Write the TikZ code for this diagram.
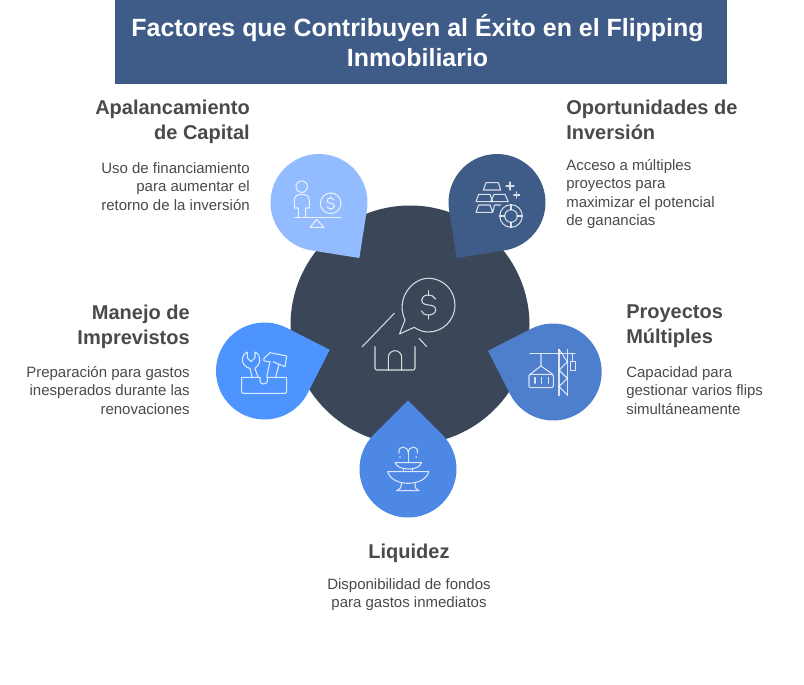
\documentclass[tikz,border=0pt]{standalone}
\usepackage{fontspec}
\setmainfont{Liberation Sans}
\usetikzlibrary{calc}
\definecolor{hdr}{HTML}{3F5C88}
\definecolor{core}{HTML}{3C4659}
\definecolor{dropA}{HTML}{93BBFF}
\definecolor{dropB}{HTML}{3F5C88}
\definecolor{dropC}{HTML}{4D94FF}
\definecolor{dropD}{HTML}{4D7FCC}
\definecolor{dropE}{HTML}{4D88E5}
\definecolor{ink}{HTML}{4A4A4A}
\newcommand{\drop}[4]{\fill[#4] ($(#1,#2)+(#3+45:48.5)$) arc[start angle=#3+45, delta angle=270, radius=48.5] -- ($(#1,#2)+(#3:68.6)$) -- cycle;}
\tikzset{
  titletext/.style={text=white,font=\bfseries\fontsize{18.7}{22.5}\selectfont,align=center,inner sep=0pt},
  headR/.style={text=ink,font=\bfseries\fontsize{15}{18.6}\selectfont,align=right,inner sep=0pt,anchor=north east},
  headL/.style={text=ink,font=\bfseries\fontsize{15}{18.6}\selectfont,align=left,inner sep=0pt,anchor=north west},
  headC/.style={text=ink,font=\bfseries\fontsize{15}{18.6}\selectfont,align=center,inner sep=0pt,anchor=north},
  bodyR/.style={text=ink,font=\fontsize{11.25}{13.9}\selectfont,align=right,inner sep=0pt,anchor=north east},
  bodyL/.style={text=ink,font=\fontsize{11.25}{13.9}\selectfont,align=left,inner sep=0pt,anchor=north west},
  bodyC/.style={text=ink,font=\fontsize{11.25}{13.9}\selectfont,align=center,inner sep=0pt,anchor=north},
  ico/.style={draw=white,draw opacity=.8,line width=.8pt,line join=round,line cap=round,fill=none},
}
\begin{document}
\begin{tikzpicture}[x=.75pt,y=-.75pt]
\useasboundingbox (0,0) rectangle (804,685);
\fill[white] (0,0) rectangle (804,685);
\fill[hdr] (115,0) rectangle (727,84);
\node[titletext] (title) at (417.5,41) {Factores que Contribuyen al Éxito en el Flipping\\Inmobiliario};
\fill[core] (410,325) circle[radius=119.5];
\drop{319}{202.5}{54}{dropA}
\drop{497}{202.5}{126}{dropB}
\drop{264.5}{371}{-18}{dropC}
\drop{553.2}{372}{198}{dropD}
\drop{408}{469}{-90}{dropE}
% central icon
\draw[ico] (405,320) .. controls (395,298) and (413,278) .. (428.3,278.3) .. controls (444,278.3) and (455,291) .. (455,305) .. controls (455,320) and (443,332) .. (428.3,332) .. controls (423,332) and (418,330) .. (414.3,327.3) -- (399.5,334) -- cycle;
\draw[ico] (435.5,299) .. controls (434,296) and (431,295) .. (428.5,295) .. controls (424,295) and (421.7,297.5) .. (421.7,300) .. controls (421.7,308) and (435.7,302) .. (435.7,310) .. controls (435.7,313) and (432,315) .. (428.5,315) .. controls (425,315) and (422,313.5) .. (421.5,311);
\draw[ico] (428.5,290.7) -- (428.5,295) (428.5,315) -- (428.5,319);
\draw[ico] (394.3,313.3) -- (362.3,346.7) (419,338.3) -- (426.7,346.7);
\draw[ico] (375,346.7) -- (375,368) arc[start angle=180,end angle=90,radius=2] -- (413,370) arc[start angle=90,end angle=0,radius=2] -- (415,346.7);
\draw[ico] (388.3,370) -- (388.3,357.4) arc[start angle=180,end angle=360,radius=6.7] -- (401.7,370);
% Apalancamiento icon
\draw[ico] (301.7,186.7) circle[radius=5.7];
\draw[ico] (298.3,217.3) -- (298.3,208) -- (294.3,208) -- (294.3,200) .. controls (294.3,196) and (298,194.3) .. (301.8,194.3) .. controls (305.6,194.3) and (309.3,196) .. (309.3,200) -- (309.3,208) -- (305.7,208) -- (305.7,217.3);
\draw[ico] (295,217.3) -- (341,217.3);
\draw[ico] (310,227.3) -- (316.7,219.6) -- (324,227.3) -- cycle;
\draw[ico] (330.7,203.3) circle[radius=10.3];
\draw[ico] (334,200) .. controls (333,198.5) and (331.5,198) .. (330.5,198) .. controls (328,198) and (327,199.5) .. (327,200.8) .. controls (327,204.5) and (334.5,202) .. (334.5,206) .. controls (334.5,207.8) and (332.5,208.7) .. (330.5,208.7) .. controls (329,208.7) and (327.5,208) .. (327,206.8);
\draw[ico] (330.7,196.5) -- (330.7,198) (330.7,208.7) -- (330.7,210);
% Oportunidades icon
\draw[ico] (483.3,190) -- (486,182.7) -- (498.3,182.7) -- (500.7,190) -- cycle;
\draw[ico] (476,201.7) -- (478.7,194.3) -- (490,194.3) -- (492.7,201.7) -- cycle;
\draw[ico] (490.7,201.7) -- (494,194.3) -- (505,194.3) -- (508.3,201.7) -- cycle;
\draw[ico] (492.7,212.3) -- (476,212.3) -- (478.7,205) -- (490,205) -- (492.7,212.3) -- (494.5,205) -- (500.7,205);
\draw[ico] (506,186) -- (514,186) (510,182) -- (510,190);
\draw[ico] (513.7,195) -- (519.7,195) (516.7,192) -- (516.7,198);
\draw[ico] (511,216) circle[radius=11.3] (511,216) circle[radius=6.3];
\draw[ico] (511,204.7) -- (511,209.7) (511,222.3) -- (511,227.3) (499.7,216) -- (504.7,216) (517.3,216) -- (522.3,216);
% Manejo icon
\draw[ico] (260,377.3) -- (241.7,377.3) -- (241.7,392) -- (243,393.3) -- (285.4,393.3) -- (286.7,392) -- (286.7,377.3) -- (267.3,377.3);
\draw[ico] (260,377.3) -- (260,381) .. controls (260,385) and (267.3,385) .. (267.3,381) -- (267.3,377.3);
\draw[ico] (252,377) -- (250,368.5) .. controls (244,367) and (241.5,362) .. (242.5,358) .. controls (243,355) and (245,353) .. (247.3,352) -- (247.3,358) -- (251,361.5) -- (255,358) -- (255,352) .. controls (258.5,353.5) and (260,357) .. (259.8,360) .. controls (259.5,364) and (257.5,367) .. (255,368.5) -- (258,377);
\draw[ico] (266.7,377) -- (270,361.7) -- (264,361) -- (264,358.3) -- (270,352.7) -- (286.7,356) -- (285,366.7) -- (273.3,361.8) -- (279,364.5) -- (275.7,377);
% Proyectos icon
\draw[ico] (530,353.3) -- (575,353.3);
\draw[ico] (541,353.3) -- (541,366) (530,374.3) -- (541,366) -- (552.7,374.3);
\draw[ico,rounded corners=1pt] (529,374.3) rectangle (553.3,387.7);
\draw[ico] (535,377.5) -- (535,383.3) (541.7,377.5) -- (541.7,383.3) (548.3,377.5) -- (548.3,383.3);
\draw[ico] (559,349.3) -- (559,395.7) (567.3,349.3) -- (567.3,395.7);
\draw[ico] (559,349.3) -- (567.3,361.7) -- (559,370) -- (567.3,378.3) -- (559,386.7) -- (567.3,395);
\draw[ico] (572.7,353.3) -- (572.7,361.7);
\draw[ico] (570.7,361.7) rectangle (575.3,370.7);
% Liquidez icon
\draw[ico] (399,453) .. controls (398.5,449) and (400.5,447) .. (403,447) .. controls (406,447) and (408.2,449.5) .. (408.2,453) .. controls (408.2,449.5) and (410.5,447) .. (413.5,447) .. controls (416,447) and (418,449) .. (417.5,453);
\draw[ico] (408.2,453) -- (408.2,462.7);
\fill[white,opacity=.8] (400,457) circle[radius=.9] (416.3,457) circle[radius=.9];
\draw[ico] (395,462.7) -- (421.7,462.7) .. controls (420,467) and (415,469) .. (408.3,469) .. controls (402,469) and (397,467) .. (395,462.7) -- cycle;
\draw[ico] (403.3,469) -- (403.3,471.7) (412.3,469) -- (412.3,471.7);
\draw[ico] (387.7,471.7) -- (428.7,471.7) .. controls (427,479) and (418,483.3) .. (408.2,483.3) .. controls (398,483.3) and (390,479) .. (387.7,471.7) -- cycle;
\draw[ico] (401.7,483.3) -- (400.5,488) -- (396.7,490.7) -- (419,490.7) -- (415.5,488) -- (415,483.3);
% texts
\node[headR] (h1) at (250,99.5) {Apalancamiento\\de Capital};
\node[bodyR] (b1) at (250,162) {Uso de financiamiento\\para aumentar el\\retorno de la inversión};
\node[headL] (h2) at (566,99.5) {Oportunidades de\\Inversión};
\node[bodyL] (b2) at (566,159) {Acceso a múltiples\\proyectos para\\maximizar el potencial\\de ganancias};
\node[headR] (h3) at (190,304.5) {Manejo de\\Imprevistos};
\node[bodyR] (b3) at (190,366) {Preparación para gastos\\inesperados durante las\\renovaciones};
\node[headL] (h4) at (626,304.5) {Proyectos\\Múltiples};
\node[bodyL] (b4) at (626,366) {Capacidad para\\gestionar varios flips\\simultáneamente};
\node[headC] (h5) at (409,544) {Liquidez};
\node[bodyC] (b5) at (409,578) {Disponibilidad de fondos\\para gastos inmediatos};
\end{tikzpicture}
\end{document}
